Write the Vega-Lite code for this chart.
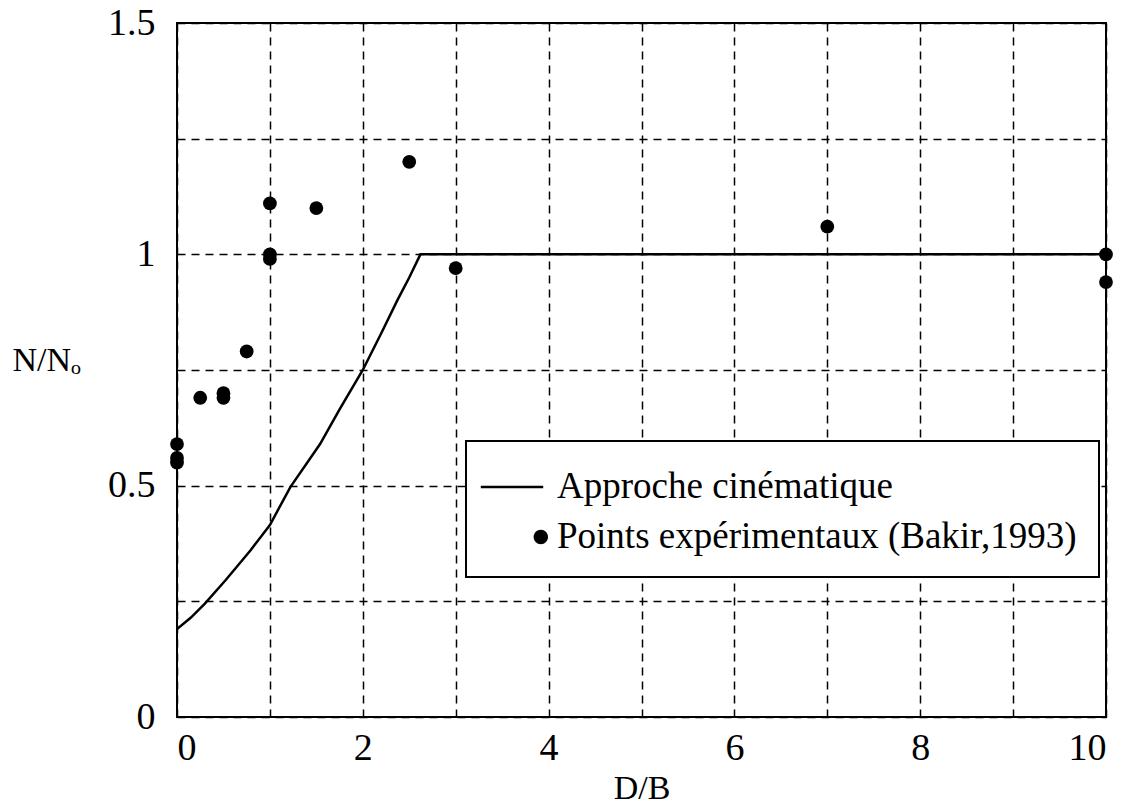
{
  "$schema": "https://vega.github.io/schema/vega-lite/v6.json",
  "width": 929,
  "height": 694,
  "autosize": "none",
  "padding": {"left": 177, "top": 23, "right": 30, "bottom": 91},
  "background": "white",
  "config": {
    "font": "Liberation Serif",
    "view": {"stroke": "black", "strokeWidth": 2},
    "legend": {"strokeWidth": 2},
    "axis": {
      "labelFont": "Liberation Serif",
      "titleFont": "Liberation Serif",
      "labelColor": "black",
      "titleColor": "black",
      "labelFontSize": 38,
      "titleFontSize": 34,
      "titleFontWeight": "normal",
      "ticks": false,
      "domain": false,
      "grid": true,
      "gridColor": "black",
      "gridOpacity": 1,
      "gridWidth": 1.5,
      "gridDash": [8, 6]
    }
  },
  "layer": [
    {
      "data": {"values": [
        {"x": 0, "y": 0.19}, {"x": 0.15, "y": 0.215}, {"x": 0.3, "y": 0.245},
        {"x": 0.52, "y": 0.295}, {"x": 0.79, "y": 0.36}, {"x": 1.0, "y": 0.415},
        {"x": 1.22, "y": 0.497}, {"x": 1.54, "y": 0.59}, {"x": 1.75, "y": 0.665},
        {"x": 2.0, "y": 0.75}, {"x": 2.2, "y": 0.83}, {"x": 2.37, "y": 0.9},
        {"x": 2.5, "y": 0.95}, {"x": 2.62, "y": 1.0}, {"x": 10, "y": 1.0}
      ]},
      "mark": {"type": "line", "color": "black", "strokeWidth": 2.5, "clip": true},
      "encoding": {
        "x": {"field": "x", "type": "quantitative",
          "scale": {"domain": [0, 10], "nice": false, "zero": false},
          "axis": {"values": [0,1,2,3,4,5,6,7,8,9,10], "format": "d",
            "labelExpr": "datum.value % 2 === 0 ? datum.label : ''",
            "labelPadding": 12, "title": "D/B", "titlePadding": 4}},
        "y": {"field": "y", "type": "quantitative",
          "scale": {"domain": [0, 1.5], "nice": false, "zero": false},
          "axis": {"values": [0,0.25,0.5,0.75,1,1.25,1.5], "format": "~g",
            "labelExpr": "datum.value * 2 === floor(datum.value * 2) ? datum.label : ''",
            "labelPadding": 22, "title": "N/Nₒ", "titleAngle": 0,
            "titleX": -165, "titleY": 347, "titleAlign": "left", "titleBaseline": "alphabetic"}}
      }
    },
    {
      "data": {"values": [
        {"x": 0, "y": 0.59}, {"x": 0, "y": 0.56}, {"x": 0, "y": 0.55},
        {"x": 0.25, "y": 0.69}, {"x": 0.5, "y": 0.70}, {"x": 0.5, "y": 0.69},
        {"x": 0.75, "y": 0.79}, {"x": 1, "y": 1.11}, {"x": 1, "y": 1.0}, {"x": 1, "y": 0.99},
        {"x": 1.5, "y": 1.10}, {"x": 2.5, "y": 1.20}, {"x": 3, "y": 0.97},
        {"x": 7, "y": 1.06}, {"x": 10, "y": 1.0}, {"x": 10, "y": 0.94}
      ]},
      "mark": {"type": "point", "shape": "circle", "filled": true, "color": "black", "opacity": 1, "size": 190, "clip": false},
      "encoding": {
        "x": {"field": "x", "type": "quantitative"},
        "y": {"field": "y", "type": "quantitative"}
      }
    },
    {
      "data": {"values": []},
      "mark": {"type": "point", "filled": true, "color": "black", "opacity": 1, "size": 2304},
      "encoding": {
        "x": {"field": "x", "type": "quantitative"},
        "y": {"field": "y", "type": "quantitative"},
        "shape": {"field": "series", "type": "nominal",
          "scale": {"domain": ["Approche cinématique", "Points expérimentaux (Bakir,1993)"],
            "range": ["M-1.3,-0.05H1.3V0.05H-1.3Z", "M1.5,0A0.3,0.3,0,1,1,0.9,0A0.3,0.3,0,1,1,1.5,0Z"]},
          "legend": {"orient": "none", "legendX": 289, "legendY": 418, "title": null,
            "strokeColor": "black", "fillColor": "white", "padding": 22,
            "labelFont": "Liberation Serif", "labelFontSize": 37, "labelColor": "black",
            "labelOffset": 21, "labelLimit": 1000, "symbolSize": 2304, "symbolStrokeWidth": 0,
            "symbolStrokeColor": "black", "symbolFillColor": "black", "symbolOpacity": 1, "rowPadding": 8}}
      }
    }
  ]
}
